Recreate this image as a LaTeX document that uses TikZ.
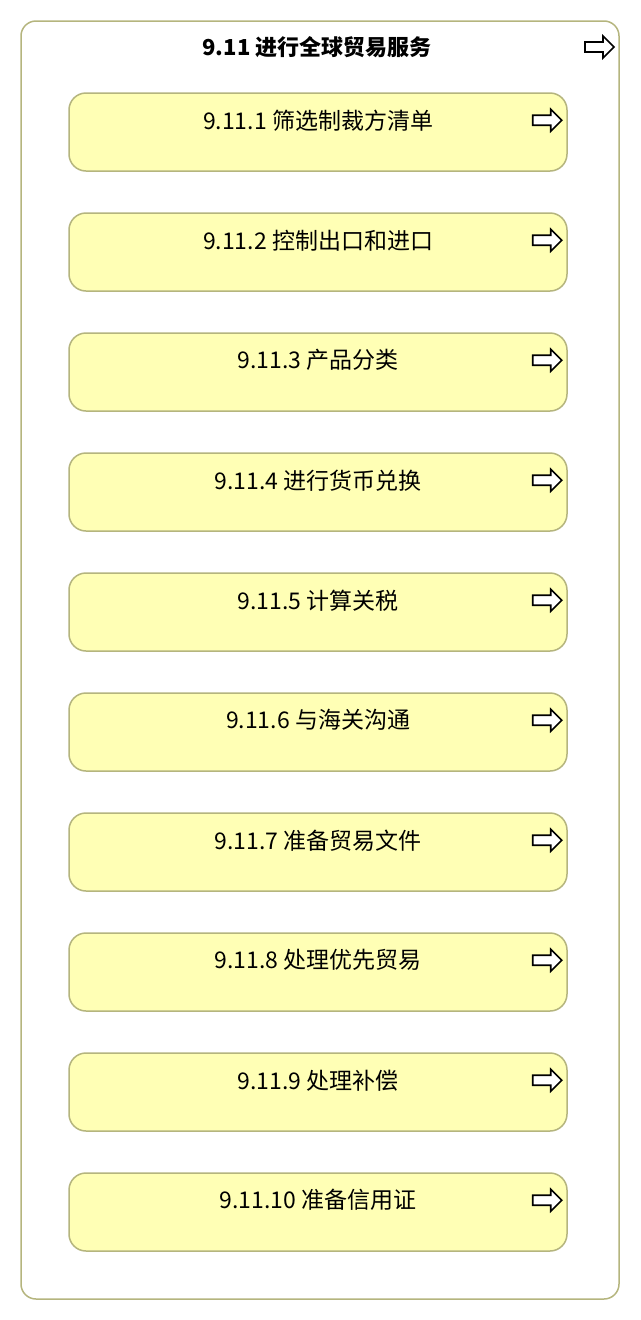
\documentclass[tikz,border=0pt]{standalone}
\usepackage{fontspec}
\newfontfamily\cjk{Noto Sans CJK SC}
\usepackage{tikz}
\usetikzlibrary{calc, positioning}
\definecolor{boxline}{HTML}{B5B57E}
\definecolor{boxfill}{HTML}{FFFFB5}
\tikzset{
	outerbox/.style={draw=boxline, line width=1.5pt, rounded corners=15pt, fill=white},
	procbox/.style={draw=boxline, line width=1.5pt, rounded corners=17pt, fill=boxfill, minimum width=498pt, minimum height=78pt, inner sep=0pt},
	lbl/.style={font=\cjk\fontsize{23pt}{26pt}\selectfont, inner sep=0pt},
	flowarrow/.pic={
			\draw[line width=1.6pt, line join=miter, fill=white] (0,-5) -- (18,-5) -- (18,-11) -- (29,0) -- (18,11) -- (18,5) -- (0,5) -- cycle;
		},
}

\begin{document}
\begin{tikzpicture}[x=1pt, y=-1pt]
			\useasboundingbox (0,0) rectangle (640,1320);
			\draw[outerbox] (21,21) rectangle (619,1299);
			\node[lbl, font=\cjk\bfseries\fontsize{22pt}{25pt}\selectfont] (title) at (317,47) {9.11 进行全球贸易服务};
			\pic at (585,47) {flowarrow};
			\foreach \k/\t in {1/筛选制裁方清单, 2/控制出口和进口, 3/产品分类, 4/进行货币兑换, 5/计算关税, 6/与海关沟通, 7/准备贸易文件, 8/处理优先贸易, 9/处理补偿, 10/准备信用证} {
					\node[procbox] (p\k) at (318,{132+120*(\k-1)}) {};
					\node[lbl] (t\k) at ([yshift=-28pt]p\k.north) {9.11.\k\ \t};
					\pic at ([xshift=-35pt, yshift=-28pt]p\k.north east) {flowarrow};
				}
		\end{tikzpicture}
\end{document}
